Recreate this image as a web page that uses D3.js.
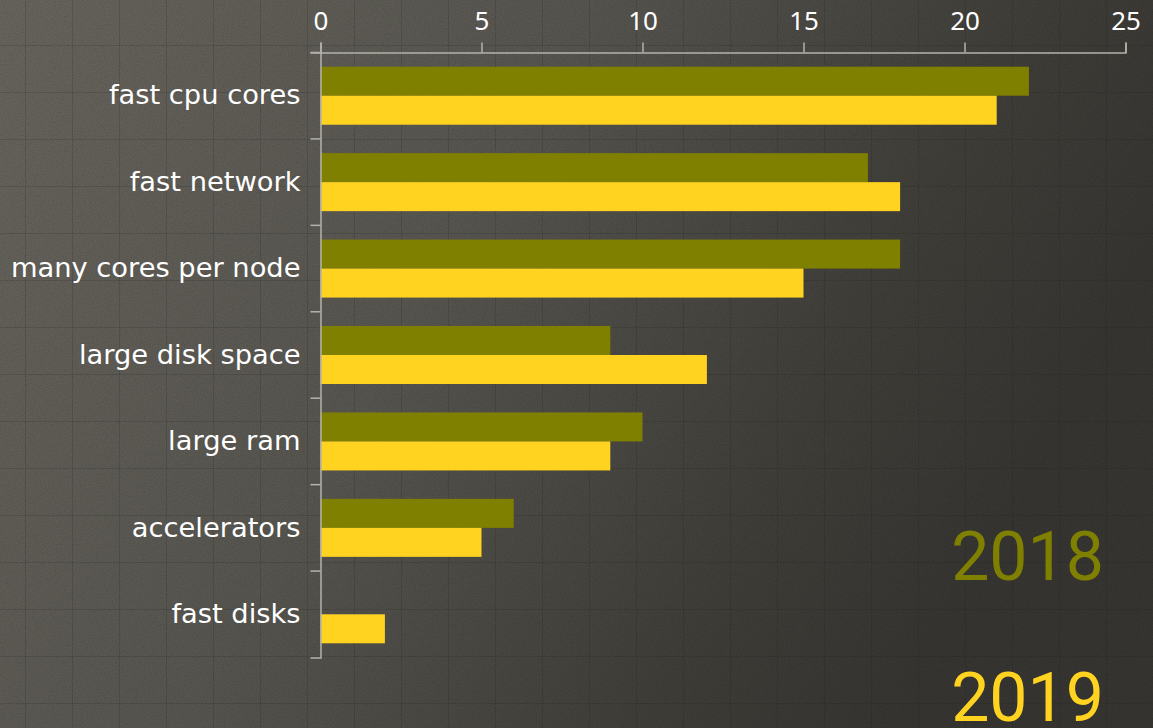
<!DOCTYPE html>
<html>
<head>
<meta charset="utf-8">
<script src="https://cdn.jsdelivr.net/npm/d3@7"></script>
<style>
  html, body { margin: 0; padding: 0; background: #4a4843; overflow: hidden; }
  svg { display: block; }
</style>
</head>
<body>
<svg id="chart" width="1153" height="728"></svg>
<script>
const categories = ["fast cpu cores", "fast network", "many cores per node", "large disk space", "large ram", "accelerators", "fast disks"];
const seriesNames = ["2018", "2019"];
const values2018 = [22, 17, 18, 9, 10, 6, 0];
const values2019 = [21, 18, 15, 12, 9, 5, 2];
const xTicks = [0, 5, 10, 15, 20, 25];
const colors = ["#808000", "#ffd320"];

const W = 1153, H = 728;
const svg = d3.select("#chart");
const defs = svg.append("defs");

// background gradient
const lg = defs.append("linearGradient").attr("id", "bg").attr("x1", "0").attr("y1", "0").attr("x2", "1").attr("y2", "0.35");
lg.append("stop").attr("offset", "0%").attr("stop-color", "#67645d");
lg.append("stop").attr("offset", "45%").attr("stop-color", "#57554f");
lg.append("stop").attr("offset", "80%").attr("stop-color", "#3f3e39");
lg.append("stop").attr("offset", "100%").attr("stop-color", "#363531");

const pat = defs.append("pattern").attr("id", "grid").attr("patternUnits", "userSpaceOnUse")
  .attr("width", 47).attr("height", 47).attr("x", 25).attr("y", 45);
pat.append("path").attr("d", "M0,0.5 H47 M0.5,0 V47").attr("stroke", "#1c1b18").attr("stroke-width", 1).attr("fill", "none").attr("opacity", 0.16);

const noise = defs.append("filter").attr("id", "noise").attr("x", 0).attr("y", 0).attr("width", "100%").attr("height", "100%");
noise.append("feTurbulence").attr("type", "fractalNoise").attr("baseFrequency", 0.9).attr("numOctaves", 2).attr("seed", 3);
noise.append("feColorMatrix").attr("type", "matrix").attr("values", "0 0 0 0 0  0 0 0 0 0  0 0 0 0 0  0 0 0 -1.2 0.75");

svg.append("rect").attr("width", W).attr("height", H).attr("fill", "url(#bg)");
svg.append("rect").attr("width", W).attr("height", H).attr("filter", "url(#noise)").attr("opacity", 0.2);
svg.append("rect").attr("width", W).attr("height", H).attr("fill", "url(#grid)");

// scales
const x = d3.scaleLinear().domain([0, 25]).range([320.5, 1125.5]);
const y = d3.scaleBand().domain(categories).range([52.5, 657.5]).paddingInner(0).paddingOuter(0);
const y1 = d3.scaleBand().domain(seriesNames).range([0, y.bandwidth()]).paddingInner(0).paddingOuter(0.49);

const data = categories.map((c, i) => ({ cat: c, vals: [{ s: "2018", v: values2018[i] }, { s: "2019", v: values2019[i] }] }));

// bars
const groups = svg.append("g").selectAll("g").data(data).join("g")
  .attr("transform", d => `translate(0,${y(d.cat)})`);
groups.selectAll("rect").data(d => d.vals).join("rect")
  .attr("x", x(0))
  .attr("y", d => y1(d.s))
  .attr("width", d => x(d.v) - x(0))
  .attr("height", y1.bandwidth())
  .attr("fill", (d, i) => colors[i]);

// x axis (top)
const xAxis = svg.append("g").attr("transform", `translate(0,${52.5})`)
  .call(d3.axisTop(x).tickValues(xTicks).tickSize(10).tickSizeOuter(10).tickPadding(13));
xAxis.selectAll("text").attr("fill", "#ffffff").style("font-family", "'Noto Sans', 'Open Sans', sans-serif").style("font-size", "26px");
xAxis.selectAll("line").attr("stroke", "#b4b2ac").attr("stroke-width", 1.5);
xAxis.select(".domain").attr("stroke", "#b4b2ac").attr("stroke-width", 1.5);

// y axis (left)
const yAxis = svg.append("g").attr("transform", `translate(${320.5},0)`)
  .call(d3.axisLeft(y).tickSize(0).tickSizeOuter(10).tickPadding(20));
yAxis.selectAll("text").attr("fill", "#ffffff").style("font-family", "'DejaVu Sans', sans-serif").style("font-size", "27.3px");
yAxis.select(".domain").attr("stroke", "#b4b2ac").attr("stroke-width", 1.5);
yAxis.selectAll(".tick").append("line")
  .attr("x1", -10).attr("x2", 0)
  .attr("y1", -y.bandwidth() / 2).attr("y2", -y.bandwidth() / 2)
  .attr("stroke", "#b4b2ac").attr("stroke-width", 1.5);

// legend
const legend = svg.append("g");
legend.selectAll("text").data(seriesNames).join("text")
  .attr("x", 1104)
  .attr("y", (d, i) => 580 + i * 141)
  .attr("text-anchor", "end")
  .attr("fill", (d, i) => colors[i])
  .style("font-family", "Roboto, sans-serif")
  .style("font-size", "68px")
  .text(d => d);
</script>
</body>
</html>
